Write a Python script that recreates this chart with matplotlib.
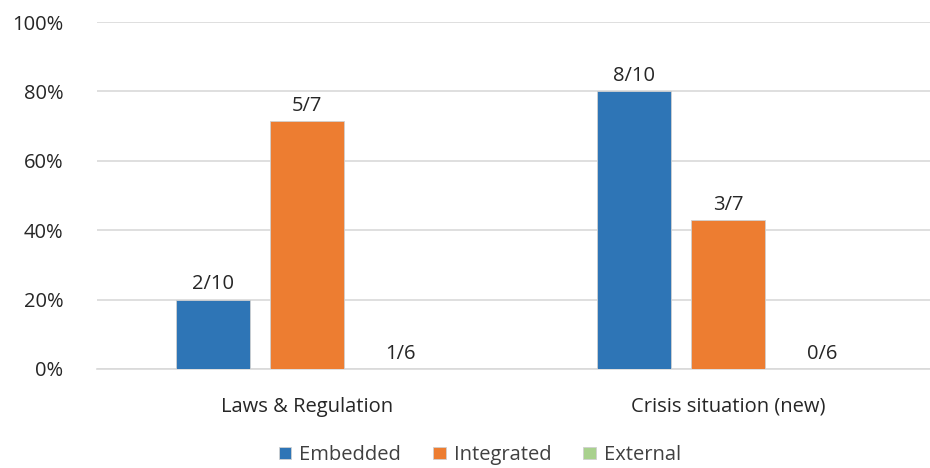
import matplotlib.pyplot as plt
import numpy as np

categories = ["Laws & Regulation", "Crisis situation (new)"]
series_names = ["Embedded", "Integrated", "External"]
embedded = [0.20, 0.80]
integrated = [5 / 7, 3 / 7]
external = [0.0, 0.0]
bar_labels = [["2/10", "8/10"], ["5/7", "3/7"], ["1/6", "0/6"]]
colors = ["#2E75B6", "#ED7D31", "#A9D18E"]
yticks = [0, 0.2, 0.4, 0.6, 0.8, 1.0]

plt.rcParams['font.family'] = ['Open Sans', 'DejaVu Sans']
text_color = "#262626"
fs = 14.5

fig = plt.figure(figsize=(9.3, 4.68), dpi=100)
ax = fig.add_axes([96.5 / 930, 99 / 468, 842 / 930, 347 / 468])

x = np.arange(len(categories))
width = 0.176
step = 0.223
for i, (vals, name) in enumerate(zip([embedded, integrated, external], series_names)):
    pos = x + (i - 1) * step
    ax.bar(pos, vals, width, color=colors[i], label=name,
           edgecolor="#d0d0d0", linewidth=0.6, zorder=3)
    for p, v, lab in zip(pos, vals, bar_labels[i]):
        ax.text(p, v + 0.015, lab, ha='center', va='bottom',
                fontsize=fs, color=text_color)

ax.set_xlim(-0.5, 1.5)
ax.set_ylim(0, 1.0)
ax.set_yticks(yticks)
ax.set_yticklabels([f"{int(round(t * 100))}%" for t in yticks],
                   fontsize=fs, color=text_color)
ax.set_xticks(x)
ax.set_xticklabels(categories, fontsize=fs, color=text_color)
ax.tick_params(axis='y', length=0, pad=24)
ax.tick_params(axis='x', length=0, pad=20)
ax.grid(axis='y', color="#d9d9d9", linewidth=1.2, zorder=0)
for side in ['top', 'right', 'left']:
    ax.spines[side].set_visible(False)
ax.spines['bottom'].set_color("#d9d9d9")
ax.spines['bottom'].set_linewidth(1.2)

fig.legend(loc='center', bbox_to_anchor=(480 / 930, 1 - 455 / 468), ncol=3,
           frameon=False, fontsize=fs, handlelength=0.6, handleheight=0.6,
           handletextpad=0.4, columnspacing=1.6, labelcolor="#404040")

fig.savefig("out.png", dpi=100, facecolor='white')
